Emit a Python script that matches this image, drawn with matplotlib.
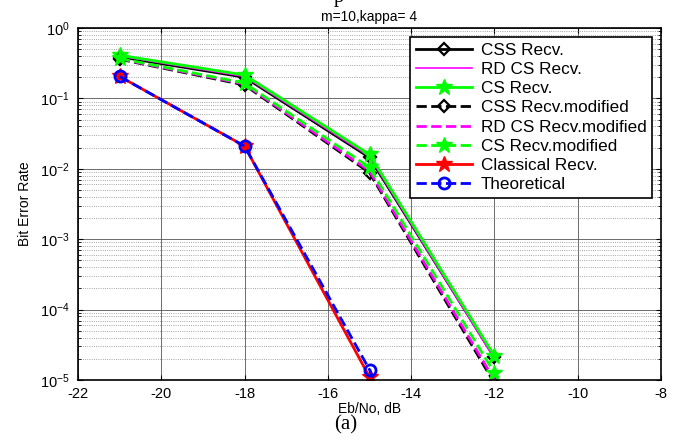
import matplotlib
matplotlib.use("Agg")
import matplotlib.pyplot as plt
import numpy as np

plt.rcParams["font.family"] = ["Liberation Sans", "DejaVu Sans"]
plt.rcParams["axes.unicode_minus"] = False
plt.rcParams["mathtext.default"] = "regular"

ebno = [-21, -18, -15, -12]

css_recv = [0.39, 0.20, 0.0145, 2.1e-5]
rdcs_recv = [0.40, 0.205, 0.015, 2.0e-5]
cs_recv = [0.41, 0.215, 0.016, 2.2e-5]
css_mod = [0.36, 0.155, 0.0088, 9.0e-6]
rdcs_mod = [0.365, 0.16, 0.0093, 1.0e-5]
cs_mod = [0.37, 0.165, 0.0105, 1.25e-5]
classical = [0.205, 0.021, 1.1e-5, 1e-9]
theoretical = [0.205, 0.021, 1.4e-5, 1e-9]

labels = ["CSS Recv.", "RD CS Recv.", "CS Recv.", "CSS Recv.modified",
          "RD CS Recv.modified", "CS Recv.modified", "Classical Recv.",
          "Theoretical"]

fig = plt.figure(figsize=(6.82, 4.41), dpi=100)
ax = fig.add_axes([78 / 682, 1 - 380 / 441, 583 / 682, 352 / 441])

lw = 2
ax.semilogy(ebno, css_recv, "k-", marker="D", mfc="none", mew=1.6, ms=6, lw=lw, label=labels[0])
ax.semilogy(ebno, rdcs_recv, "-", color="#ff00ff", lw=1.2, label=labels[1])
ax.semilogy(ebno, cs_recv, "-", color="#00ff00", marker="*", ms=12, mfc="#00ff00", mec="#00ff00", lw=lw, label=labels[2])
ax.semilogy(ebno, css_mod, "k--", marker="D", mfc="none", mew=1.6, ms=6, lw=lw, label=labels[3])
ax.semilogy(ebno, rdcs_mod, "--", color="#ff00ff", lw=lw, label=labels[4])
ax.semilogy(ebno, cs_mod, "--", color="#00ff00", marker="*", ms=12, mfc="#00ff00", mec="#00ff00", lw=lw, label=labels[5])
ax.semilogy(ebno, classical, "-", color="red", marker="*", ms=12, lw=lw, label=labels[6])
ax.semilogy(ebno, theoretical, "--", color="blue", marker="o", mfc="none", mew=2, ms=8, lw=lw, label=labels[7])

ax.set_xlim(-22, -8)
ax.set_ylim(1e-5, 1)
ax.set_xticks(np.arange(-22, -7, 2))
ax.grid(True, which="major", color="#555555", lw=0.6, ls="-")
ax.grid(True, which="minor", axis="y", color="#888888", lw=0.6, ls=":")
ax.tick_params(which="both", direction="in", top=True, right=True, labelsize=10.5)
ax.tick_params(axis="y", pad=6)
ax.tick_params(axis="x", pad=5)
for s in ax.spines.values():
    s.set_linewidth(1.2)

ax.set_xlabel("Eb/No, dB", fontsize=10, labelpad=1)
ax.set_ylabel("Bit Error Rate", fontsize=10, labelpad=6)
ax.set_title("m=10,kappa= 4", fontsize=10, pad=5)

leg = ax.legend(loc="upper right", fontsize=12.3, fancybox=False, framealpha=1,
                edgecolor="black", borderpad=0.35, labelspacing=0.25,
                handlelength=3.3, handletextpad=0.5, borderaxespad=0.5)
leg.get_frame().set_linewidth(1.2)

fig.text(0.497, 1.005, "p", family="Liberation Serif", fontsize=15, ha="center", va="center")
fig.text(0.507, 0.036, "(a)", family="Liberation Serif", fontsize=15, ha="center", va="center")

fig.savefig("out.png", dpi=100)
